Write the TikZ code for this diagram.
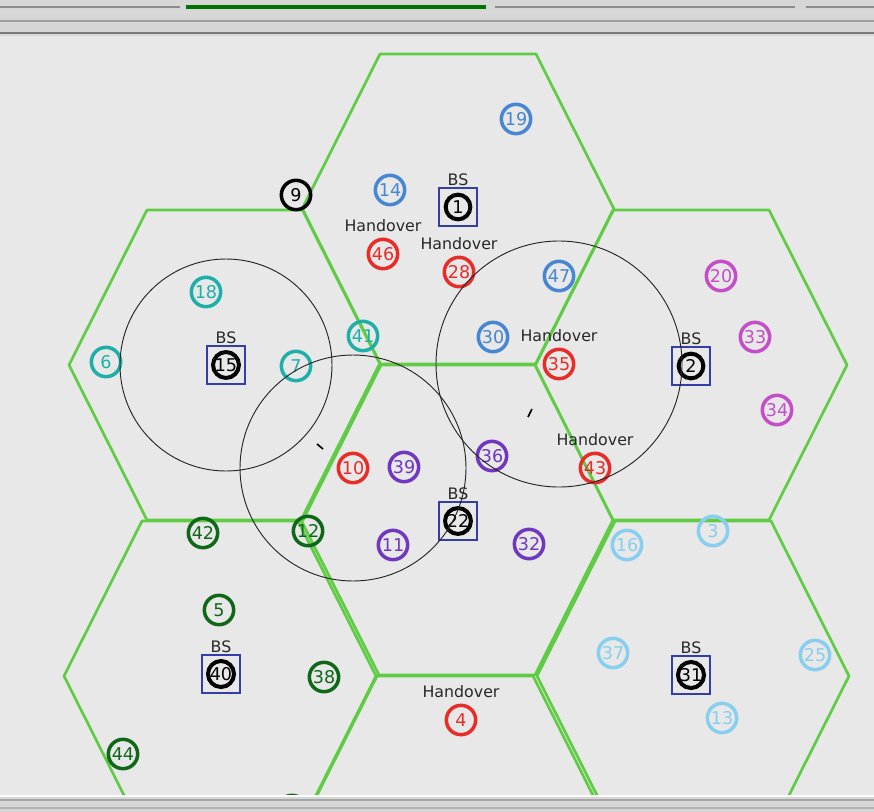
\documentclass[tikz,border=0pt]{standalone}
\usepackage{fontspec}
\setmainfont{DejaVu Sans}
\usetikzlibrary{positioning}

\definecolor{canvasgray}{RGB}{232,232,232}
\definecolor{framegray}{RGB}{214,214,214}
\definecolor{cellgreen}{RGB}{96,204,70}
\definecolor{bsblue}{RGB}{52,62,170}
\definecolor{labelgray}{RGB}{40,40,40}
\definecolor{ueblue}{RGB}{70,134,210}
\definecolor{uered}{RGB}{232,44,40}
\definecolor{ueteal}{RGB}{30,176,168}
\definecolor{ueorchid}{RGB}{196,78,200}
\definecolor{ueviolet}{RGB}{112,56,192}
\definecolor{uegreen}{RGB}{14,104,24}
\definecolor{uesky}{RGB}{136,206,238}

\begin{document}
\begin{tikzpicture}[
        x=0.03cm, y=-0.03cm,
        cell/.style={draw=cellgreen, line width=2.3pt, line join=round},
        coverage/.style={draw=black!85, line width=0.8pt},
        mobile/.style={
            circle,
            draw=#1,
            text=#1,
            line width=3pt,
            minimum size=0.88cm,
            inner sep=0pt,
            font=\fontsize{15}{15}\selectfont
        },
        bsbox/.style={rectangle, draw=bsblue, line width=1.7pt, minimum size=1.14cm, inner sep=0pt},
        bsnode/.style={circle, draw=black, line width=3.4pt, minimum size=0.74cm, inner sep=0pt,
            font=\fontsize{15}{15}\selectfont},
        tag/.style={text=labelgray, inner sep=0pt, font=\fontsize{13.5}{13.5}\selectfont}
    ]

    \useasboundingbox (0,0) rectangle (874,811);
    \clip (0,0) rectangle (874,811);
    \fill[canvasgray] (0,0) rectangle (874,811);

    % Cells
    \draw[cell, shift={(458,209)}] (-78,-155) -- (78,-155) -- (156,0) -- (78,155) -- (-78,155) -- (-156,0) -- cycle;
    \draw[cell, shift={(225,365)}] (-78,-155) -- (78,-155) -- (156,0) -- (78,155) -- (-78,155) -- (-156,0) -- cycle;
    \draw[cell, shift={(691,365)}] (-78,-155) -- (78,-155) -- (156,0) -- (78,155) -- (-78,155) -- (-156,0) -- cycle;
    \draw[cell, shift={(457,520)}] (-78,-155) -- (78,-155) -- (156,0) -- (78,155) -- (-78,155) -- (-156,0) -- cycle;
    \draw[cell, shift={(220,676)}] (-78,-155) -- (78,-155) -- (156,0) -- (78,155) -- (-78,155) -- (-156,0) -- cycle;
    \draw[cell, shift={(693,676)}] (-78,-155) -- (78,-155) -- (156,0) -- (78,155) -- (-78,155) -- (-156,0) -- cycle;
    \draw[cell, shift={(455,831)}] (-78,-155) -- (78,-155) -- (156,0) -- (78,155) -- (-78,155) -- (-156,0) -- cycle;

    % Base stations
    \node (bs0) [bsbox] at (458,207) {};
    \node (bs15) [bsbox] at (226,365) {};
    \node (bs2) [bsbox] at (691,366) {};
    \node (bs22) [bsbox] at (458,521) {};
    \node (bs40) [bsbox] at (221,674) {};
    \node (bs31) [bsbox] at (691,675) {};
    \node [bsnode] at (bs0) {1};
    \node [bsnode] at (bs15) {15};
    \node [bsnode] at (bs2) {2};
    \node [bsnode] at (bs22) {22};
    \node [bsnode] at (bs40) {40};
    \node [bsnode] at (bs31) {31};
    \node [tag, above=1pt of bs0] {BS};
    \node [tag, above=1pt of bs15] {BS};
    \node [tag, above=1pt of bs2] {BS};
    \node [tag, above=1pt of bs22] {BS};
    \node [tag, above=1pt of bs40] {BS};
    \node [tag, above=1pt of bs31] {BS};

    % Top cell
    \node (n19) [mobile=ueblue] at (516,119) {19};
    \node (n14) [mobile=ueblue] at (390,190) {14};
    \node (n47) [mobile=ueblue] at (559,276) {47};
    \node (n30) [mobile=ueblue] at (493,337) {30};
    \node (n9) [mobile=black] at (296,195) {9};

    % Left cell
    \node (n18) [mobile=ueteal] at (206,292) {18};
    \node (n6) [mobile=ueteal] at (106,362) {6};
    \node (n7) [mobile=ueteal] at (296,366) {7};
    \node (n41) [mobile=ueteal] at (363,336) {41};

    % Right cell
    \node (n20) [mobile=ueorchid] at (721,276) {20};
    \node (n33) [mobile=ueorchid] at (755,337) {33};
    \node (n34) [mobile=ueorchid] at (777,410) {34};

    % Centre cell
    \node (n36) [mobile=ueviolet] at (492,456) {36};
    \node (n39) [mobile=ueviolet] at (404,467) {39};
    \node (n11) [mobile=ueviolet] at (393,545) {11};
    \node (n32) [mobile=ueviolet] at (529,544) {32};

    % Bottom left cell
    \node (n42) [mobile=uegreen] at (203,533) {42};
    \node (n12) [mobile=uegreen] at (308,531) {12};
    \node (n5) [mobile=uegreen] at (219,610) {5};
    \node (n38) [mobile=uegreen] at (324,677) {38};
    \node (n44) [mobile=uegreen] at (123,754) {44};
    \node (n0) [mobile=uegreen] at (292,810) {};

    % Bottom right cell
    \node (n16) [mobile=uesky] at (627,545) {16};
    \node (n3) [mobile=uesky] at (713,531) {3};
    \node (n37) [mobile=uesky] at (613,653) {37};
    \node (n25) [mobile=uesky] at (815,655) {25};
    \node (n13) [mobile=uesky] at (722,718) {13};

    % Handover users
    \node (n46) [mobile=uered] at (383,254) {46};
    \node (n28) [mobile=uered] at (459,272) {28};
    \node (n35) [mobile=uered] at (559,364) {35};
    \node (n43) [mobile=uered] at (595,468) {43};
    \node (n10) [mobile=uered] at (353,468) {10};
    \node (n4) [mobile=uered] at (461,720) {4};
    \node [tag, above=4.5pt of n46] {Handover};
    \node [tag, above=4.5pt of n28] {Handover};
    \node [tag, above=4.5pt of n35] {Handover};
    \node [tag, above=4.5pt of n43] {Handover};
    \node [tag, above=4.5pt of n4] {Handover};

    % Coverage
    \draw[coverage] (bs15) circle [radius=106];
    \draw[coverage] (n10) circle [radius=113];
    \draw[coverage] (n35) circle [radius=123];
    \draw[line width=1.4pt] (317,444) -- (323,449);
    \draw[line width=1.4pt] (528,417) -- (532,409);

    % Window frame
    \fill[framegray] (0,-5) rectangle (874,36);
    \draw[line width=2pt, black!45] (0,7) -- (180,7);
    \draw[line width=3.4pt, green!45!black] (186,7) -- (486,7);
    \draw[line width=2pt, black!45] (495,7) -- (795,7);
    \draw[line width=2pt, black!45] (806,7) -- (874,7);
    \draw[line width=1.2pt, white!85!black] (0,12) -- (874,12);
    \draw[line width=1.6pt, black!38] (0,21) -- (874,21);
    \draw[line width=2.4pt, black!52] (0,33) -- (874,33);
    \fill[framegray] (-5,796) rectangle (880,820);
    \draw[line width=1pt, white] (0,796) -- (874,796);
    \draw[line width=1.2pt, black!35] (0,800) -- (874,800);
    \draw[line width=1.2pt, black!30] (0,808) -- (874,808);

\end{tikzpicture}
\end{document}
